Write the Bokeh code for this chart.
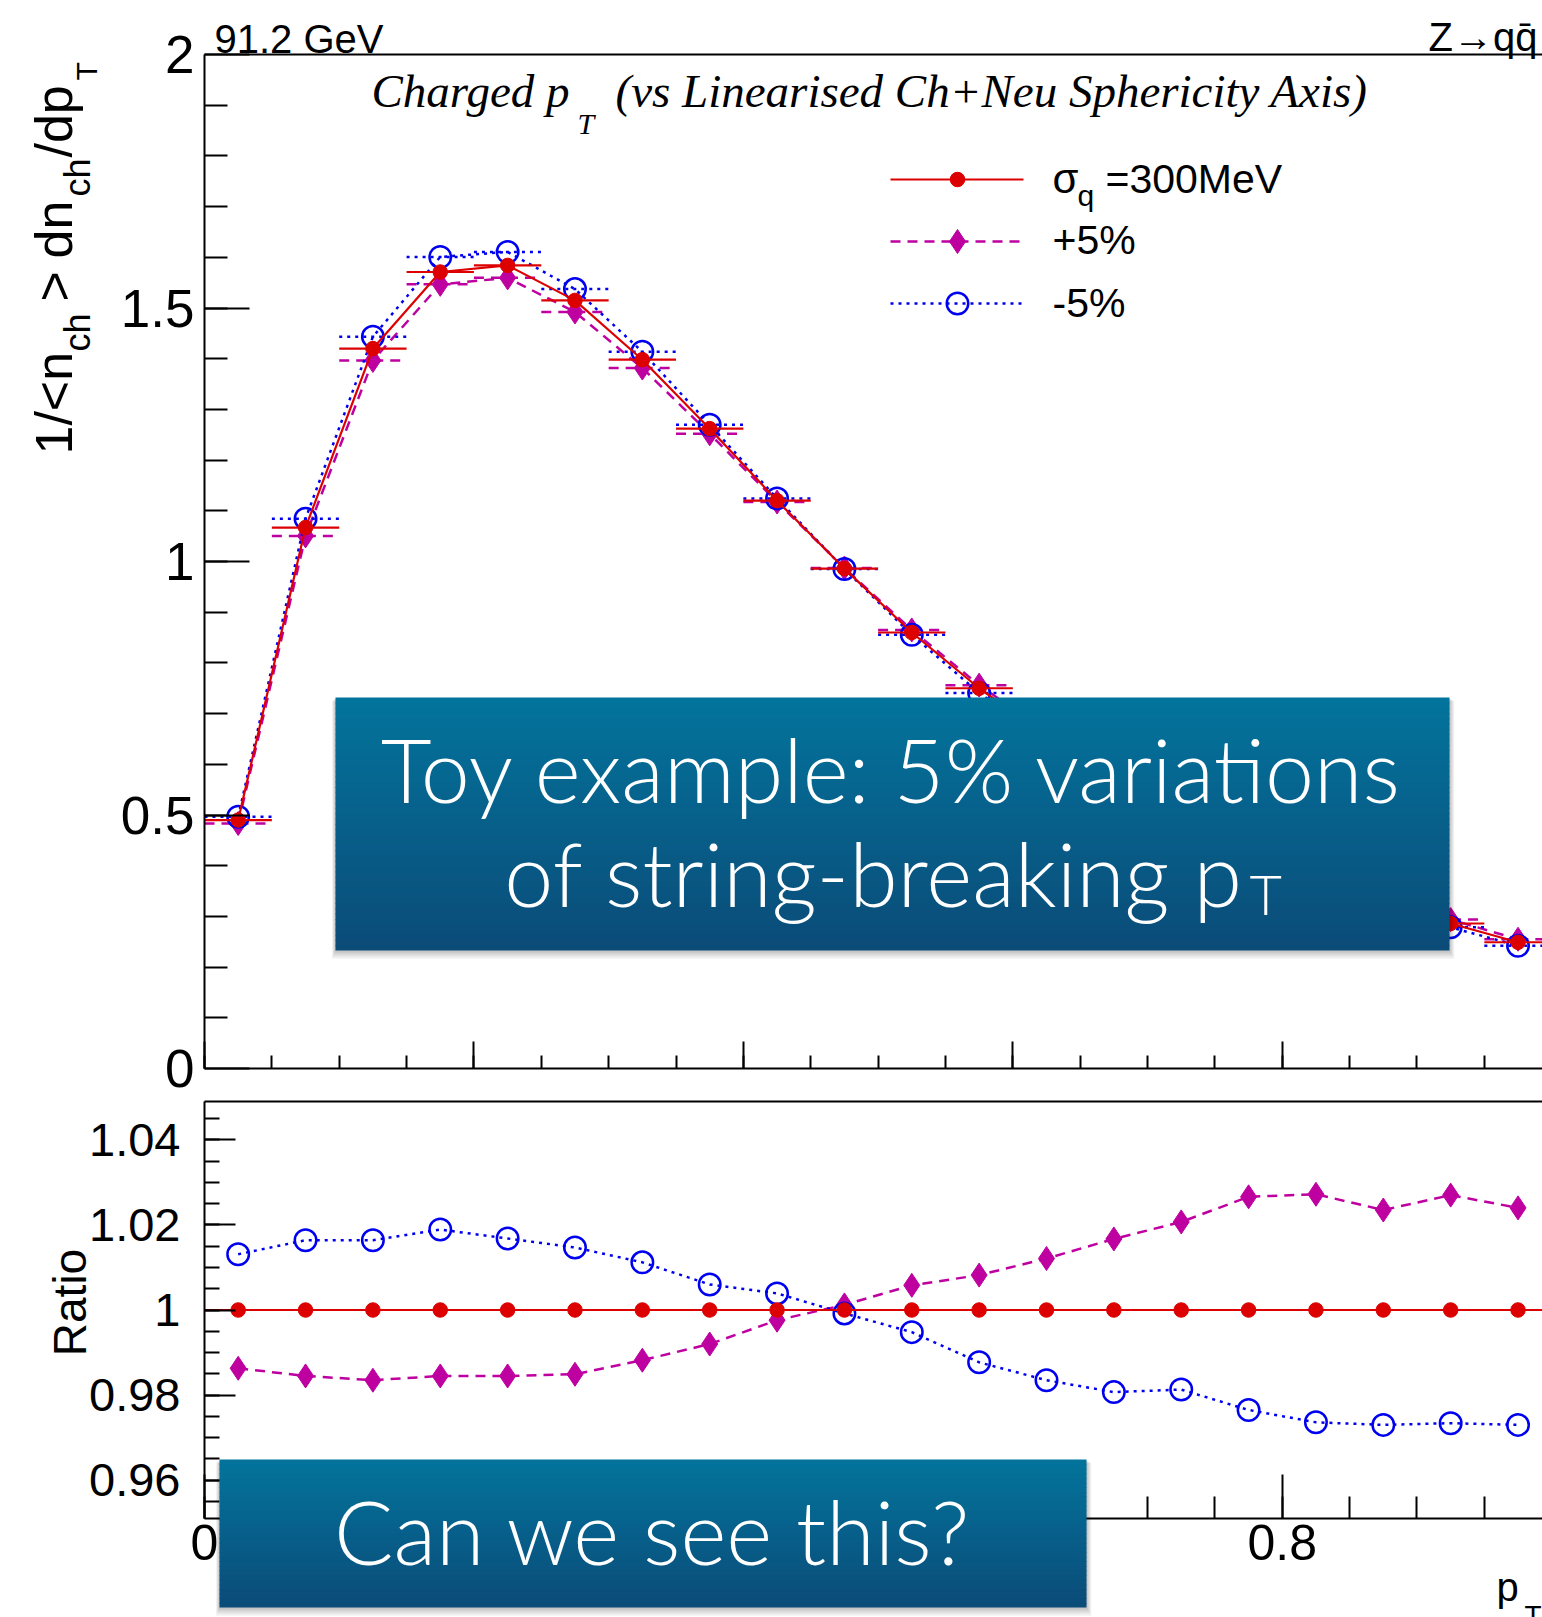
import numpy as np
from bokeh.plotting import figure
from bokeh.layouts import column
from bokeh.models import (Range1d, FixedTicker, Label, BoxAnnotation, LinearAxis,
                          CustomJSTickFormatter, ColumnDataSource)
from bokeh.embed import file_html
from bokeh.resources import INLINE

# ---------------- data ----------------
pt_edges = [0.00, 0.05, 0.10, 0.15, 0.20, 0.25, 0.30, 0.35, 0.40, 0.45, 0.50,
            0.55, 0.60, 0.65, 0.70, 0.75, 0.80, 0.85, 0.90, 0.95, 1.00]

# 1/<n_ch> dn_ch/dp_T for sigma_q = 300 MeV
nominal = [0.490, 1.067, 1.420, 1.571, 1.584, 1.515, 1.398, 1.262, 1.120, 0.986,
           0.860, 0.750, 0.656, 0.570, 0.495, 0.430, 0.375, 0.328, 0.286, 0.249]

# ratios of the +5% / -5% variations to the nominal
ratio_plus = [0.9863, 0.9845, 0.9835, 0.9845, 0.9845, 0.9849, 0.9882, 0.9920, 0.9976, 1.0012,
              1.0058, 1.0082, 1.0121, 1.0167, 1.0207, 1.0266, 1.0272, 1.0235, 1.0270, 1.0240]
ratio_minus = [1.0131, 1.0164, 1.0164, 1.0189, 1.0168, 1.0147, 1.0112, 1.0060, 1.0039, 0.9992,
               0.9948, 0.9877, 0.9835, 0.9807, 0.9813, 0.9765, 0.9736, 0.9730, 0.9734, 0.9730]

legend_labels = ["=300MeV", "+5%", "-5%"]

x_ticks = [0.0, 0.2, 0.4, 0.6, 0.8, 1.0]
x_tick_labels = ["0", "0.2", "0.4", "0.6", "0.8", "1"]
y_ticks_main = [0.0, 0.5, 1.0, 1.5, 2.0]
y_tick_labels_main = ["0", "0.5", "1", "1.5", "2"]
y_ticks_ratio = [0.96, 0.98, 1.00, 1.02, 1.04]
y_tick_labels_ratio = ["0.96", "0.98", "1", "1.02", "1.04"]

# ---------------- derived columns ----------------
lo = pt_edges[:-1]
hi = pt_edges[1:]
centers = [0.5 * (a + b) for a, b in zip(lo, hi)]
plus = [n * r for n, r in zip(nominal, ratio_plus)]
minus = [n * r for n, r in zip(nominal, ratio_minus)]
ratio_nom = [n / n for n in nominal]

src = ColumnDataSource(dict(x=centers, lo=lo, hi=hi, nom=nominal, plus=plus, minus=minus,
                            r_nom=ratio_nom, r_plus=ratio_plus, r_minus=ratio_minus))

RED = "#dd0000"
MAG = "#bf00a0"
BLUE = "#0000f0"
ROOT_FONT = "Liberation Sans"
SLIDE_FONT = "'Lato Light', Lato"

# page geometry (pixels): the frames cover the whole canvas, axes sit at fixed spots
W = 1542
H_TOP = 1099
H_BOT = 1617 - H_TOP
AX_LEFT = 204
PX_PER_X = 1347.2
XMIN = -AX_LEFT / PX_PER_X
XMAX = (W - AX_LEFT) / PX_PER_X
R_LO, R_HI = 0.951, 1.049


def fx(px):
    return (px - AX_LEFT) / PX_PER_X


def fy1(py):
    # top panel: y=0 at 1068 px, 507 px per unit
    return (1068 - py) / 507.0


def fy2(py):
    # ratio panel: ratio 1 at 1309.5 px, 4255 px per unit
    return 1 + (1309.5 - py) / 4255.0


def tick_formatter(ticks, labels):
    return CustomJSTickFormatter(args=dict(t=ticks, l=labels), code="""
        for (let i = 0; i < t.length; i++) {
            if (Math.abs(t[i] - tick) < 1e-9) return l[i];
        }
        return '';
    """)


def style_axis(ax, major_in, minor_in):
    ax.axis_line_width = 2
    ax.axis_line_color = "black"
    ax.major_tick_in = major_in
    ax.major_tick_out = 0
    ax.minor_tick_in = minor_in
    ax.minor_tick_out = 0
    ax.major_tick_line_width = 2
    ax.minor_tick_line_width = 2
    ax.major_tick_line_color = "black"
    ax.minor_tick_line_color = "black"
    ax.major_label_text_font = ROOT_FONT
    ax.major_label_text_color = "black"


def frame_line(p, y):
    ax = LinearAxis(fixed_location=y, bounds=(0, XMAX),
                    ticker=FixedTicker(ticks=[], minor_ticks=[]),
                    axis_line_width=2, axis_line_color="black",
                    major_tick_line_color=None, minor_tick_line_color=None)
    p.add_layout(ax, "above")


def text(p, fy, xpx, base_px, s, size, font=ROOT_FONT, align="left", color="black",
         angle=0.0, style="normal"):
    # place a text by its baseline position given in page pixels
    shift = 0.35 * size
    if angle == 0.0:
        ax, ay = xpx, base_px - shift
    else:
        ax, ay = xpx - shift, base_px
    p.add_layout(Label(x=fx(ax), y=fy(ay), text=s, text_font=font, text_font_size=f"{size}px",
                       text_font_style=style, text_color=color, text_align=align,
                       text_baseline="alphabetic", angle=angle))


def mix(c0, c1, t):
    return "#%02x%02x%02x" % tuple(int(round(a + (b - a) * t)) for a, b in zip(c0, c1))


def slide_box(p, fy, left, right, top, bottom, n=48):
    # soft drop shadow
    for k in range(1, 8):
        p.add_layout(BoxAnnotation(left=fx(left - 0.5 * k), right=fx(right + 0.7 * k),
                                   top=fy(top + 0.5 * k), bottom=fy(bottom + 1.2 * k),
                                   fill_color="black", fill_alpha=0.035, line_color=None))
    top_c, bot_c = (3, 116, 156), (11, 75, 120)
    h = (bottom - top) / n
    for i in range(n):
        y0 = top + i * h
        y1 = min(bottom, y0 + h + 0.8)
        p.add_layout(BoxAnnotation(left=fx(left), right=fx(right), top=fy(y0), bottom=fy(y1),
                                   fill_color=mix(top_c, bot_c, (i + 0.5) / n), fill_alpha=1.0,
                                   line_color=None))


def base_figure(height, y_range):
    p = figure(width=W, height=height, x_range=Range1d(XMIN, XMAX), y_range=y_range,
               output_backend="svg", toolbar_location=None,
               min_border_left=0, min_border_right=0, min_border_top=0, min_border_bottom=0,
               background_fill_color="white", border_fill_color="white",
               outline_line_color=None)
    p.grid.visible = False
    return p


# ---------------- top panel ----------------
p1 = base_figure(H_TOP, Range1d(fy1(H_TOP), fy1(0)))
p1.xaxis.fixed_location = 0.0
p1.yaxis.fixed_location = 0.0
p1.xaxis.bounds = (0, XMAX)
p1.yaxis.bounds = (0, 2)
style_axis(p1.xaxis[0], 27, 13)
style_axis(p1.yaxis[0], 45, 23)
p1.xaxis.ticker = FixedTicker(ticks=x_ticks, minor_ticks=pt_edges)
p1.xaxis.formatter = CustomJSTickFormatter(code="return '';")
p1.xaxis.major_label_text_font_size = "1px"
p1.xaxis.major_label_standoff = 0
p1.yaxis.ticker = FixedTicker(ticks=y_ticks_main,
                              minor_ticks=list(np.round(np.arange(0.1, 2.0, 0.1), 2)))
p1.yaxis.formatter = tick_formatter(y_ticks_main, y_tick_labels_main)
p1.yaxis.major_label_text_font_size = "53px"
p1.yaxis.major_label_standoff = 10
frame_line(p1, 2.0)

# +5%
p1.segment(x0="lo", x1="hi", y0="plus", y1="plus", source=src, line_color=MAG,
           line_width=2.5, line_dash="10 7")
p1.line("x", "plus", source=src, line_color=MAG, line_width=2.5, line_dash="10 7")
p1.scatter("x", "plus", source=src, marker="diamond", size=24, fill_color=MAG, line_color=MAG)
# -5%
p1.segment(x0="lo", x1="hi", y0="minus", y1="minus", source=src, line_color=BLUE,
           line_width=2.5, line_dash="3 5")
p1.line("x", "minus", source=src, line_color=BLUE, line_width=2.5, line_dash="3 5")
p1.scatter("x", "minus", source=src, marker="circle", size=21.5, fill_color=None,
           line_color=BLUE, line_width=2.5)
# nominal
p1.segment(x0="lo", x1="hi", y0="nom", y1="nom", source=src, line_color=RED, line_width=2.2)
p1.line("x", "nom", source=src, line_color=RED, line_width=2.2)
p1.scatter("x", "nom", source=src, marker="circle", size=14.5, fill_color=RED, line_color=RED)

# legend
legend_rows = [179, 241, 303]
styles = [dict(line_color=RED, line_width=2.2),
          dict(line_color=MAG, line_width=2.5, line_dash="10 7"),
          dict(line_color=BLUE, line_width=2.5, line_dash="3 5")]
for row, st in zip(legend_rows, styles):
    p1.line([fx(890), fx(1023)], [fy1(row), fy1(row)], **st)
p1.scatter([fx(957)], [fy1(legend_rows[0])], marker="circle", size=14.5, fill_color=RED, line_color=RED)
p1.scatter([fx(957)], [fy1(legend_rows[1])], marker="diamond", size=24, fill_color=MAG, line_color=MAG)
p1.scatter([fx(957)], [fy1(legend_rows[2])], marker="circle", size=21.5, fill_color=None,
           line_color=BLUE, line_width=2.5)
text(p1, fy1, 1052, 193, "σ", 42)
text(p1, fy1, 1077, 205, "q", 30)
text(p1, fy1, 1105, 193, legend_labels[0], 41)
text(p1, fy1, 1052, 254, legend_labels[1], 41)
text(p1, fy1, 1052, 317, legend_labels[2], 41)

# header texts
text(p1, fy1, 214, 52, "91.2 GeV", 40)
text(p1, fy1, 1537, 50, "Z→qq\u0304", 40, align="right")
text(p1, fy1, 371, 107, "Charged p", 47, font="Liberation Serif", style="italic")
text(p1, fy1, 577, 133, "T", 30, font="Liberation Serif", style="italic")
text(p1, fy1, 615, 107, "(vs Linearised Ch+Neu Sphericity Axis)", 47,
     font="Liberation Serif", style="italic")

# rotated y-axis title: 1/<n_ch> dn_ch/dp_T
up = np.pi / 2
text(p1, fy1, 72, 454, "1/<n", 52, angle=up)
text(p1, fy1, 90, 351, "ch", 36, angle=up)
text(p1, fy1, 72, 301, ">", 52, angle=up)
text(p1, fy1, 72, 258, "dn", 52, angle=up)
text(p1, fy1, 90, 196, "ch", 36, angle=up)
text(p1, fy1, 72, 157, "/dp", 52, angle=up)
text(p1, fy1, 96, 80, "T", 30, angle=up)

# annotation box
slide_box(p1, fy1, 335, 1449, 697, 950)
text(p1, fy1, 892, 799, "Toy example: 5% variations", 88, font=SLIDE_FONT, align="center",
     color="white")
text(p1, fy1, 1243, 903, "of string-breaking p", 88, font=SLIDE_FONT, align="right", color="white")
text(p1, fy1, 1249, 913, "T", 56, font=SLIDE_FONT, color="white")

# ---------------- ratio panel ----------------
p2 = base_figure(H_BOT, Range1d(fy2(1617), fy2(H_TOP)))
p2.x_range = p1.x_range
p2.xaxis.fixed_location = R_LO
p2.yaxis.fixed_location = 0.0
p2.xaxis.bounds = (0, XMAX)
p2.yaxis.bounds = (R_LO, R_HI)
style_axis(p2.xaxis[0], 44, 22)
style_axis(p2.yaxis[0], 31, 15)
p2.xaxis.ticker = FixedTicker(ticks=x_ticks, minor_ticks=pt_edges)
p2.xaxis.formatter = tick_formatter(x_ticks, x_tick_labels)
p2.xaxis.major_label_text_font_size = "50px"
p2.xaxis.major_label_standoff = 7
p2.yaxis.ticker = FixedTicker(ticks=y_ticks_ratio,
                              minor_ticks=list(np.round(np.arange(0.955, 1.046, 0.005), 3)))
p2.yaxis.formatter = tick_formatter(y_ticks_ratio, y_tick_labels_ratio)
p2.yaxis.major_label_text_font_size = "47px"
p2.yaxis.major_label_standoff = 24
frame_line(p2, R_HI)

p2.line("x", "r_plus", source=src, line_color=MAG, line_width=2.5, line_dash="10 7")
p2.scatter("x", "r_plus", source=src, marker="diamond", size=24, fill_color=MAG, line_color=MAG)
p2.line("x", "r_minus", source=src, line_color=BLUE, line_width=2.5, line_dash="3 5")
p2.scatter("x", "r_minus", source=src, marker="circle", size=21.5, fill_color=None,
           line_color=BLUE, line_width=2.5)
p2.segment(x0="lo", x1="hi", y0="r_nom", y1="r_nom", source=src, line_color=RED, line_width=2.2)
p2.line("x", "r_nom", source=src, line_color=RED, line_width=2.2)
p2.scatter("x", "r_nom", source=src, marker="circle", size=14.5, fill_color=RED, line_color=RED)

text(p2, fy2, 86, 1302, "Ratio", 46, align="center", angle=up)
text(p2, fy2, 1496, 1600, "p", 40)
text(p2, fy2, 1524, 1625, "T", 28)

slide_box(p2, fy2, 219, 1086, 1459, 1607, n=32)
text(p2, fy2, 652, 1561, "Can we see this?", 88, font=SLIDE_FONT, align="center", color="white")

layout = column(p1, p2, spacing=0)
open("out.html", "w").write(file_html(layout, INLINE, title="Charged pT"))
